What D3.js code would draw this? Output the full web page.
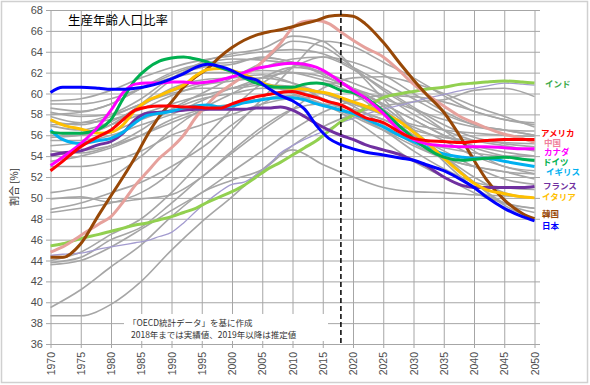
<!DOCTYPE html>
<html><head><meta charset="utf-8">
<script src="https://cdn.jsdelivr.net/npm/d3@7/dist/d3.min.js"></script>
<style>body{margin:0;background:#fff}svg{display:block}</style>
</head><body>
<svg id="c" width="590" height="385"></svg>
<script>
// ---- data ----
const yearsC = [1970,1972,1975,1978,1980,1982,1984,1986,1988,1990,1992,1994,1996,1998,2000,2002,2004,2006,2008,2010,2012,2014,2016,2018,2020,2022,2025,2028,2030,2032,2035,2038,2040,2042,2045,2048,2050];
const japan   = [60.1,60.6,60.6,60.5,60.4,60.4,60.5,60.7,61.0,61.4,61.9,62.5,62.8,62.6,62.2,61.6,61.3,60.5,59.8,59.3,58.5,56.9,55.7,55.1,54.7,54.4,54.1,53.8,53.6,53.2,52.6,51.7,51.0,50.1,49.0,48.2,47.8];
const korea   = [44.3,44.3,45.6,48.4,50.2,52.0,53.9,56.0,57.8,59.2,60.6,61.6,62.4,63.5,64.4,65.1,65.6,65.9,66.1,66.4,66.7,67.0,67.4,67.5,67.4,66.7,64.9,62.7,61.3,60.0,58.2,55.6,53.6,51.8,49.8,48.5,48.0];
const china   = [44.8,45.3,46.4,47.5,48.2,49.6,51.2,52.5,53.8,54.8,56.0,57.7,59.0,60.1,60.9,61.7,62.5,63.6,64.8,66.3,66.9,67.0,66.7,65.9,65.1,64.4,63.5,62.0,60.9,60.0,58.8,57.7,57.2,56.7,56.1,55.7,55.3];
const usa     = [52.6,53.5,54.9,55.9,56.5,57.5,58.4,58.7,58.8,58.8,58.7,58.7,58.6,58.6,59.0,59.4,59.7,59.9,60.1,60.2,59.9,59.6,59.2,58.9,58.3,57.7,57.2,56.2,55.7,55.5,55.4,55.3,55.4,55.5,55.6,55.6,55.6];
const canada  = [53.1,53.9,55.2,56.9,58.4,60.1,60.9,61.0,61.0,61.1,61.1,61.0,61.1,61.3,61.6,62.0,62.4,62.6,62.8,62.9,62.8,62.5,61.9,61.1,60.3,59.6,58.1,56.3,55.6,55.2,55.0,54.9,54.9,54.9,54.8,54.7,54.7];
const germany = [56.3,56.2,56.2,56.6,57.5,59.5,61.3,62.4,63.1,63.4,63.5,63.3,63.0,62.5,62.1,61.5,61.0,60.7,60.6,60.6,60.9,61.0,60.8,60.3,60.1,59.6,58.3,56.7,55.7,54.8,53.9,53.6,53.7,53.8,53.9,53.7,53.6];
const uk      = [56.5,55.6,55.2,55.5,55.7,56.3,57.2,57.9,58.1,58.3,58.6,58.8,58.9,58.7,58.8,59.1,59.3,59.5,59.6,59.6,59.4,59.0,58.7,58.4,58.1,57.6,56.8,55.9,55.4,54.9,54.2,53.9,53.8,53.8,53.5,53.2,53.0];
const france  = [54.1,54.3,54.5,55.1,55.4,56.2,57.5,58.1,58.2,58.3,58.4,58.5,58.5,58.5,58.5,58.5,58.6,58.6,58.7,58.4,57.8,57.1,56.5,56.0,55.6,55.1,54.6,54.1,53.6,53.1,52.0,51.2,51.0,51.0,51.0,51.0,51.1];
const italy   = [57.5,57.0,56.6,56.2,56.3,57.0,58.4,59.3,59.8,60.3,60.8,61.7,62.3,62.4,62.2,61.8,61.3,60.8,60.6,60.5,60.4,60.2,60.0,59.6,59.2,58.8,58.1,57.2,56.3,55.4,53.8,52.3,51.4,50.8,50.4,50.1,50.0];
const india   = [45.4,45.6,46.1,46.5,46.8,47.1,47.4,47.6,47.9,48.2,48.6,49.0,49.6,50.1,50.6,51.2,52.0,52.8,53.4,54.1,54.8,55.5,56.4,57.3,57.9,58.6,59.6,60.0,60.2,60.4,60.6,60.9,61.0,61.1,61.2,61.1,61.0];
const lavender= [44.5,44.6,44.7,45.1,45.3,45.5,45.7,45.9,46.3,46.7,47.6,48.7,49.7,50.6,51.3,51.5,52.2,53.1,54.3,55.0,55.6,56.1,56.6,57.2,57.6,58.0,58.5,58.9,59.2,59.5,59.9,60.3,60.5,60.7,61.0,60.9,60.8];

// other OECD countries (grey), every 5 years
const years5 = [1970,1975,1980,1985,1990,1995,2000,2005,2010,2015,2020,2025,2030,2035,2040,2045,2050];
const grey01 = [59.3,59.5,60.3,61.5,62.5,63.2,63.6,64.0,64.2,63.8,62.5,61.0,59.5,58.0,57.0,56.5,56.0];
const grey02 = [59.0,59.0,59.5,60.5,61.8,62.8,63.3,63.2,62.8,62.0,61.0,59.8,58.0,56.5,55.5,55.0,54.5];
const grey03 = [58.6,58.3,59.0,60.5,61.5,62.0,62.0,62.2,62.0,61.3,60.5,59.0,57.5,56.0,55.0,54.4,54.0];
const grey04 = [58.2,57.8,58.0,59.0,60.2,61.0,61.6,62.5,63.3,63.5,62.3,60.5,58.7,57.0,55.8,55.2,54.9];
const grey05 = [57.8,57.2,57.5,58.5,59.8,60.8,61.2,61.5,61.0,60.0,59.0,58.0,56.8,55.5,54.0,53.0,52.3];
const grey06 = [57.3,57.0,57.8,59.0,60.0,60.5,60.5,60.8,60.7,60.0,58.8,57.0,55.2,53.8,53.0,52.5,51.8];
const grey07 = [56.9,56.5,57.3,58.8,60.5,61.3,61.5,61.8,61.0,59.5,58.0,56.5,54.5,52.8,51.5,51.0,50.8];
const grey08 = [56.0,56.0,57.0,58.0,59.0,59.8,60.5,61.5,62.0,61.6,60.5,59.5,58.5,57.5,56.8,56.5,56.4];
const grey09 = [55.5,55.5,56.3,57.5,58.5,59.5,60.0,60.5,60.3,59.5,58.5,57.5,56.5,55.8,55.5,55.3,55.2];
const grey10 = [55.0,55.3,56.0,57.0,58.0,59.3,60.5,61.0,60.0,59.0,57.5,55.5,53.5,52.0,50.5,49.5,49.0];
const grey11 = [54.5,54.3,55.0,56.5,58.5,60.0,61.5,63.0,65.0,64.5,62.5,60.3,58.5,56.5,54.5,53.0,52.6];
const grey12 = [54.0,54.5,55.0,56.0,57.2,58.3,59.0,59.8,60.3,60.0,59.0,58.0,57.0,56.5,56.2,56.0,55.9];
const grey13 = [53.5,54.0,54.8,56.0,57.5,58.5,59.0,59.5,59.8,59.0,57.8,56.5,55.5,54.8,54.3,54.0,54.0];
const grey14 = [53.0,53.0,53.5,54.5,56.0,57.0,58.0,59.0,59.5,59.0,58.0,56.5,55.0,53.8,53.0,52.5,52.3];
const grey15 = [50.5,51.0,52.0,54.0,56.5,58.5,60.0,61.5,62.5,62.0,60.5,59.0,57.5,56.0,54.8,54.0,53.5];
const grey16 = [49.9,50.1,49.6,49.9,50.3,52.0,54.5,56.8,58.5,59.0,58.5,57.5,56.0,54.5,53.0,51.8,51.3];
const grey17 = [48.9,49.5,50.5,51.5,53.0,54.8,57.0,59.0,60.5,61.0,60.0,58.0,56.0,54.0,52.0,50.5,50.0];
const grey18 = [48.6,49.0,49.5,50.5,52.5,55.5,58.5,61.0,62.5,63.5,63.0,61.8,60.0,58.3,57.0,56.5,56.0];
const grey19 = [44.0,44.8,46.5,48.0,50.5,53.5,56.5,59.5,62.5,65.0,64.5,63.0,61.5,59.8,58.3,57.5,57.0];
const grey20 = [43.8,44.3,46.0,47.2,49.5,52.0,54.3,56.5,58.5,60.5,61.5,61.6,61.0,60.0,58.8,57.8,56.8];
const grey21 = [43.6,44.0,45.3,47.0,48.8,50.5,52.5,54.5,56.5,58.2,59.3,59.8,59.7,59.2,58.3,57.5,57.2];
const grey22 = [39.5,41.2,43.4,45.5,48.2,50.5,51.7,52.7,54.6,53.2,52.0,51.0,50.6,50.5,50.3,50.2,50.0];
const grey23 = [38.7,38.7,39.8,42.0,45.0,47.7,50.1,52.7,55.0,56.8,58.0,58.8,59.2,59.4,60.3,60.5,59.7];
const grey24 = [58.0,58.2,59.0,60.5,62.0,62.8,63.0,63.4,63.0,61.8,60.3,58.5,56.3,53.8,51.5,49.3,48.0];
const grey25 = [57.0,57.2,58.0,59.5,61.5,62.5,62.8,63.5,63.0,62.0,60.5,58.8,56.5,54.0,51.5,49.5,48.6];
const grey26 = [55.8,56.0,57.0,59.0,61.3,63.0,63.8,64.3,65.5,65.0,62.5,59.5,56.5,53.5,51.0,49.5,49.0];
const greyLines = [grey01,grey02,grey03,grey04,grey05,grey06,grey07,grey08,grey09,grey10,grey11,grey12,grey13,grey14,grey15,grey16,grey17,grey18,grey19,grey20,grey21,grey22,grey23,grey24,grey25,grey26];

const yTicks = d3.range(36, 69, 2);
const xTicks = d3.range(1970, 2051, 5);
const estimateStart = 2018;

const highlighted = [
  {name:"インド",  values:india,   color:"#92d050", label:"#3daa4b", lx:545, ly:84},
  {name:"中国",    values:china,   color:"#e6a19c", label:"#f07f9c", lx:544, ly:143},
  {name:"韓国",    values:korea,   color:"#984807", label:"#984807", lx:542, ly:214},
  {name:"フランス",values:france,  color:"#7030a0", label:"#7030a0", lx:543, ly:186},
  {name:"イギリス",values:uk,      color:"#00b0f0", label:"#00b0f0", lx:546, ly:172},
  {name:"イタリア",values:italy,   color:"#ffc000", label:"#ffc000", lx:542, ly:197.5},
  {name:"ドイツ",  values:germany, color:"#00b050", label:"#00b050", lx:543, ly:162},
  {name:"カナダ",  values:canada,  color:"#ff00ff", label:"#ff00ff", lx:544, ly:152.5},
  {name:"アメリカ",values:usa,     color:"#ff0000", label:"#ff0000", lx:541, ly:133},
  {name:"日本",    values:japan,   color:"#0000ff", label:"#0000ff", lx:542, ly:226}
];

// ---- drawing ----
const svg = d3.select("#c");
const x = d3.scaleLinear().domain([1970, 2050]).range([50.5, 534.5]);
const y = d3.scaleLinear().domain([36, 68]).range([344, 10]);
const font = "'Liberation Sans', Arial, sans-serif";
const jfont = "'Noto Sans CJK JP', sans-serif";

svg.append("rect").attr("x",1.5).attr("y",1.5).attr("width",586).attr("height",381)
  .attr("fill","#fff").attr("stroke","#d0d0d0").attr("stroke-width",1.5);

// y axis + horizontal grid
const gy = svg.append("g").attr("transform","translate(46,0)")
  .call(d3.axisLeft(y).tickValues(yTicks).tickSize(-494).tickPadding(3).tickFormat(d3.format("d")));
gy.select(".domain").remove();
gy.selectAll(".tick line").attr("stroke","#a6a6a6").attr("stroke-width",1);
gy.selectAll(".tick text").attr("fill","#4d4d4d").style("font-family",font).style("font-size","11px");

// x axis + vertical grid
const gx = svg.append("g").attr("transform","translate(0,348)")
  .call(d3.axisBottom(x).tickValues(xTicks).tickSize(-338).tickFormat(d3.format("d")));
gx.select(".domain").remove();
gx.selectAll(".tick line").attr("stroke","#a6a6a6").attr("stroke-width",1);
gx.selectAll(".tick text").attr("transform","rotate(-90)").attr("x",-4).attr("y",0).attr("dy","0.35em")
  .style("text-anchor","end").attr("fill","#4d4d4d").style("font-family",font).style("font-size","10.5px");

// annotation box
svg.append("rect").attr("x",124).attr("y",314).attr("width",204).attr("height",27).attr("fill","#fff");
svg.append("text").attr("x",128).attr("y",326).text("「OECD統計データ」を基に作成")
  .style("font-family",jfont).style("font-size","8.5px").attr("fill","#333");
svg.append("text").attr("x",131).attr("y",338).text("2018年までは実績値、2019年以降は推定値")
  .style("font-family",jfont).style("font-size","8.5px").attr("fill","#333");

const line = yrs => d3.line().x((d,i)=>x(yrs[i])).y(d=>y(d)).curve(d3.curveMonotoneX);

svg.append("g").selectAll("path").data(greyLines).join("path")
  .attr("d", d => line(years5)(d)).attr("fill","none").attr("stroke","#a6a6a6").attr("stroke-width",1.6);

svg.append("path").attr("d", line(yearsC)(lavender)).attr("fill","none").attr("stroke","#a39bcf").attr("stroke-width",1.3);

svg.append("g").selectAll("path").data(highlighted).join("path")
  .attr("d", d => line(yearsC)(d.values)).attr("fill","none").attr("stroke", d=>d.color)
  .attr("stroke-width",3).attr("stroke-linejoin","round");

// dashed divider
svg.append("line").attr("x1",x(estimateStart)).attr("x2",x(estimateStart)).attr("y1",10).attr("y2",344)
  .attr("stroke","#000").attr("stroke-width",1.5).attr("stroke-dasharray","5,3");

// labels
svg.append("g").selectAll("text").data(highlighted).join("text")
  .attr("x",d=>d.lx).attr("y",d=>d.ly).attr("dy","0.35em").text(d=>d.name)
  .attr("fill",d=>d.label).style("font-family",jfont).style("font-size","8.5px").style("font-weight","bold");

// title & axis title
svg.append("text").attr("x",68).attr("y",25).text("生産年齢人口比率")
  .style("font-family",jfont).style("font-size","12.5px").attr("fill","#000");
svg.append("text").attr("transform","translate(18,187) rotate(-90)").attr("text-anchor","middle")
  .text("割合 [%]").style("font-family",jfont).style("font-size","10px").attr("fill","#333");
</script>
</body></html>
